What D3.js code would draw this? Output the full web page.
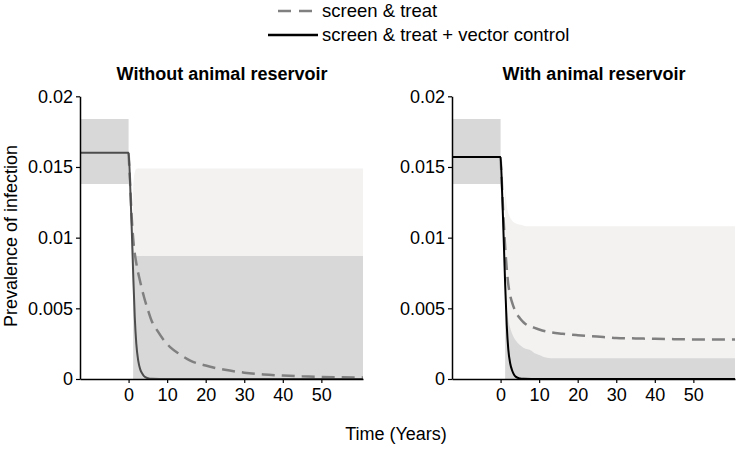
<!DOCTYPE html>
<html><head><meta charset="utf-8">
<script src="https://cdn.jsdelivr.net/npm/d3@7"></script>
<style>body{margin:0;background:#fff}svg{display:block}text{font-family:"Liberation Sans",Arial,sans-serif;fill:#000}</style>
</head><body>
<script>
// ---------- data ----------
const panelTitles = ["Without animal reservoir", "With animal reservoir"];
const legendLabels = ["screen & treat", "screen & treat + vector control"];
const xTicks = [0, 10, 20, 30, 40, 50];
const yTicks = [0, 0.005, 0.01, 0.015, 0.02];
const yTickLabels = ["0", "0.005", "0.01", "0.015", "0.02"];
const xDomain = [-12.6, 60.8];

// pre-intervention band (t < 0)
const preBandT = [-12.6, 0];
const preBandLow = [0.0138, 0.0138];
const preBandHigh = [0.0184, 0.0184];

// Without animal reservoir
const tSolid = [-12.6, 0, 0.4, 0.8, 1.2, 1.6, 2.0, 2.5, 3.0, 3.5, 4.0, 5.0, 6.0, 8.0, 60.8];
const solidL = [0.016, 0.016, 0.0138, 0.0108, 0.0074, 0.0044, 0.0025, 0.0013, 0.0007, 0.0004, 0.0002, 0.00006, 0.00001, 0, 0];
const tDashL = [0, 0.4, 0.8, 1.3, 2, 3, 4, 5, 6, 7.5, 9, 11, 13, 16, 20, 25, 30, 35, 40, 45, 50, 55, 60.8];
const dashL = [0.016, 0.0138, 0.0115, 0.0096, 0.0082, 0.0069, 0.0058, 0.0049, 0.0041, 0.0034, 0.0028, 0.0022, 0.0018, 0.0013, 0.00095, 0.00065, 0.00045, 0.00032, 0.00024, 0.00019, 0.00015, 0.00012, 0.0001];
const tLightL = [1.2, 1.4, 1.7, 2.1, 2.6, 60.8];
const lightL = [0.0136, 0.0143, 0.0147, 0.0149, 0.0149, 0.0149];
const tDarkL = [1.2, 1.4, 1.7, 2.1, 2.6, 60.8];
const darkL = [0.0096, 0.0091, 0.0088, 0.0087, 0.0087, 0.0087];
const tHalo = [0, 0.4, 0.8, 1.2, 1.6, 2.0, 2.5, 3.0, 3.5, 4.0, 5.0, 6.0];
const haloLowL = [0.016, 0.0125, 0.0092, 0.0058, 0.0030, 0.0014, 0.0005, 0.0002, 0.0001, 0, 0, 0];
const haloHighL = [0.016, 0.0145, 0.0120, 0.0088, 0.0058, 0.0038, 0.0022, 0.0013, 0.0008, 0.0005, 0.0002, 0.0001];

// With animal reservoir
const solidR = [0.0157, 0.0157, 0.0132, 0.0100, 0.0066, 0.0038, 0.0021, 0.0011, 0.0006, 0.0003, 0.00015, 0.00004, 0.00001, 0, 0];
const tDashR = [0, 0.4, 0.8, 1.2, 1.6, 2.0, 2.5, 3, 4, 5, 6, 7, 8, 10, 13, 16, 20, 25, 30, 35, 40, 45, 50, 55, 60.8];
const dashR = [0.0157, 0.0135, 0.0112, 0.0093, 0.0078, 0.0067, 0.0059, 0.0054, 0.0047, 0.0043, 0.0040, 0.0038, 0.0037, 0.0035, 0.0033, 0.0032, 0.0031, 0.0030, 0.0029, 0.00287, 0.00284, 0.00282, 0.0028, 0.0028, 0.0028];
const tLightR = [1.2, 1.4, 1.7, 2.2, 3.0, 4.0, 5.5, 7, 60.8];
const lightR = [0.0138, 0.0129, 0.0121, 0.0116, 0.0112, 0.0110, 0.0109, 0.0108, 0.0108];
const tDarkR = [1.2, 1.6, 2.0, 2.5, 3, 4, 5, 6, 7, 8, 9, 10, 12, 14, 60.8];
const darkR = [0.0062, 0.0050, 0.0042, 0.0036, 0.0032, 0.0027, 0.0024, 0.0022, 0.0021, 0.0020, 0.0018, 0.0017, 0.0015, 0.00146, 0.00146];
const haloLowR = [0.0157, 0.0120, 0.0086, 0.0052, 0.0026, 0.0012, 0.0004, 0.0002, 0.0001, 0, 0, 0];
const haloHighR = [0.0157, 0.0145, 0.0116, 0.0082, 0.0052, 0.0034, 0.0020, 0.0012, 0.0007, 0.0004, 0.0002, 0.0001];

// ---------- drawing ----------
const W = 738, H = 451;
const svg = d3.select("body").append("svg").attr("width", W).attr("height", H);

const panels = [
  {x0: 80, title: panelTitles[0], solid: solidL, solidColor: "#4d4d4d", tDash: tDashL, dash: dashL,
   tLight: tLightL, light: lightL, tDark: tDarkL, dark: darkL, haloLow: haloLowL, haloHigh: haloHighL},
  {x0: 452, title: panelTitles[1], solid: solidR, solidColor: "#000", tDash: tDashR, dash: dashR,
   tLight: tLightR, light: lightR, tDark: tDarkR, dark: darkR, haloLow: haloLowR, haloHigh: haloHighR}
];
const pw = 283, yTop = 96.3, yBot = 379;
const y = d3.scaleLinear().domain([0, 0.02]).range([yBot, yTop]);

panels.forEach(p => {
  const x = d3.scaleLinear().domain(xDomain).range([p.x0, p.x0 + pw]);
  const g = svg.append("g");
  const band = (ts, lo, hi) => d3.area().x((d, i) => x(ts[i])).y0((d, i) => y(lo[i])).y1((d, i) => y(hi[i])).curve(d3.curveMonotoneX)(ts);
  const zeros = a => a.map(() => 0);
  g.append("path").attr("d", band(preBandT, preBandLow, preBandHigh)).attr("fill", "#d8d8d8");
  g.append("path").attr("d", band(tHalo, p.haloLow, p.haloHigh)).attr("fill", "#e3e3e3");
  g.append("path").attr("d", band(p.tLight, zeros(p.tLight), p.light)).attr("fill", "#f3f2f1");
  g.append("path").attr("d", band(p.tDark, zeros(p.tDark), p.dark)).attr("fill", "#d8d8d8");
  const line = (ts, vs) => d3.line().x((d, i) => x(ts[i])).y((d, i) => y(vs[i])).curve(d3.curveMonotoneX)(ts);
  g.append("path").attr("d", line(p.tDash, p.dash)).attr("fill", "none")
    .attr("stroke", "#808080").attr("stroke-width", 2.5).attr("stroke-dasharray", "13,7");
  g.append("path").attr("d", line(tSolid, p.solid)).attr("fill", "none")
    .attr("stroke", p.solidColor).attr("stroke-width", 2);

  const xa = g.append("g").attr("transform", `translate(0,${yBot})`)
    .call(d3.axisBottom(x).tickValues(xTicks).tickSize(4).tickPadding(5).tickSizeOuter(0));
  const ya = g.append("g").attr("transform", `translate(${p.x0},0)`)
    .call(d3.axisLeft(y).tickValues(yTicks).tickFormat((d, i) => yTickLabels[i]).tickSize(4).tickPadding(3).tickSizeOuter(0));
  [xa, ya].forEach(a => {
    a.select(".domain").attr("stroke", "#000").attr("stroke-width", 1.5);
    a.selectAll(".tick line").attr("stroke", "#000").attr("stroke-width", 1.2);
    a.selectAll("text").style("font-size", "18px").attr("fill", "#000");
  });

  g.append("text").attr("x", p.x0 + 142).attr("y", 80).attr("text-anchor", "middle")
    .style("font-size", "18px").style("font-weight", "bold").text(p.title);
});

svg.append("text").attr("transform", `translate(17,236) rotate(-90)`).attr("text-anchor", "middle")
  .style("font-size", "18px").text("Prevalence of infection");
svg.append("text").attr("x", 396).attr("y", 440).attr("text-anchor", "middle")
  .style("font-size", "18px").text("Time (Years)");

const lg = svg.append("g");
lg.append("line").attr("x1", 278).attr("x2", 318).attr("y1", 11).attr("y2", 11)
  .attr("stroke", "#808080").attr("stroke-width", 2.5).attr("stroke-dasharray", "13,8");
lg.append("line").attr("x1", 268).attr("x2", 318).attr("y1", 35).attr("y2", 35)
  .attr("stroke", "#000").attr("stroke-width", 2.5);
lg.append("text").attr("x", 322).attr("y", 17).style("font-size", "18.5px").text(legendLabels[0]);
lg.append("text").attr("x", 322).attr("y", 41).style("font-size", "18.5px").text(legendLabels[1]);
</script>
</body></html>
